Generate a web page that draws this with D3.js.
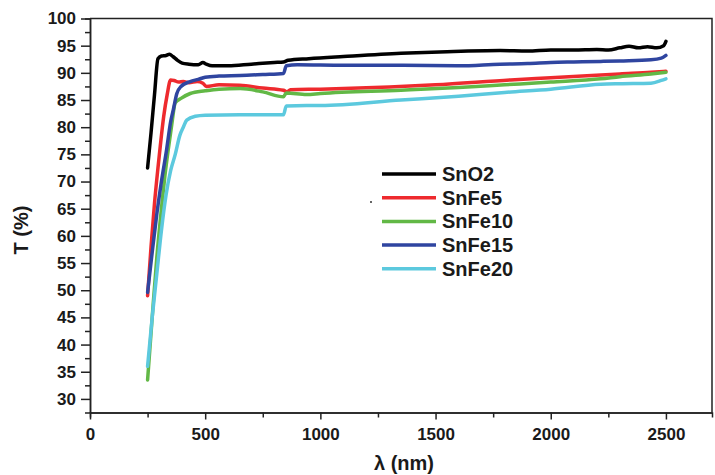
<!DOCTYPE html>
<html lang="en">
<head>
    <meta charset="UTF-8">
    <title>Transmittance spectra</title>
    <script src="https://d3js.org/d3.v7.min.js"></script>
    <style>
        body { margin: 0; background: white; }
        svg { display: block; font-family: "Liberation Sans", Arial, sans-serif; }
        .tick text { font-weight: bold; fill: #1a1a1a; }
    </style>
</head>
<body>
<div id="chart"></div>
<script>
// Series names and colours
const seriesNames = ["SnO2", "SnFe5", "SnFe10", "SnFe15", "SnFe20"];
const seriesColors = ["#000000", "#ee2a2e", "#62b846", "#2f45a0", "#5cc9de"];

// [wavelength nm, T %]
const sno2 = [[250,72.5],[265,79],[280,86],[295,92.6],[310,93.1],[330,93.2],[345,93.4],[360,93.0],[380,92.3],[400,91.8],[430,91.6],[470,91.5],[490,91.9],[505,91.6],[530,91.3],[600,91.3],[700,91.6],[800,91.9],[840,92.0],[860,92.3],[950,92.6],[1100,93.0],[1350,93.6],[1550,93.9],[1780,94.1],[1900,94.0],[2000,94.2],[2100,94.2],[2200,94.3],[2250,94.2],[2300,94.6],[2340,94.9],[2380,94.6],[2420,94.8],[2460,94.6],[2490,95.0],[2500,95.8]];
const snfe5 = [[250,49],[265,58],[280,66],[295,72.5],[305,76.5],[320,82],[335,86],[350,88.7],[365,88.6],[385,88.3],[405,88.4],[430,88.2],[465,88.4],[490,88.1],[505,87.5],[560,87.8],[650,87.7],[750,87.2],[840,86.8],[855,86.5],[870,86.9],[1000,87.0],[1300,87.4],[1500,87.8],[1826,88.7],[2000,89.1],[2217,89.6],[2300,89.8],[2435,90.1],[2500,90.3]];
const snfe10 = [[250,33.5],[270,45],[290,56],[310,65],[325,71],[340,76],[355,80.5],[370,84.5],[395,85.3],[435,86.2],[500,86.7],[560,87.0],[652,87.1],[750,86.5],[840,85.6],[852,86.3],[940,86.0],[1000,86.2],[1350,86.8],[1600,87.3],[1800,87.8],[2000,88.3],[2217,88.9],[2300,89.3],[2435,89.8],[2500,90.1]];
const snfe15 = [[250,49.6],[270,57],[290,64],[310,70],[333,76],[350,81],[362,83.3],[377,86.2],[395,87.5],[435,88.4],[470,88.8],[500,89.2],[560,89.4],[652,89.5],[750,89.7],[840,89.9],[852,91.3],[900,91.5],[1100,91.4],[1350,91.4],[1600,91.3],[1780,91.6],[1900,91.7],[2000,91.9],[2100,92.0],[2217,92.1],[2300,92.2],[2435,92.4],[2480,92.7],[2500,93.2]];
const snfe20 = [[250,36],[270,45],[290,53],[310,61],[330,67.5],[350,72],[370,75],[390,78.5],[405,80],[420,81.3],[457,82],[500,82.2],[650,82.3],[840,82.3],[852,83.9],[940,84.0],[1000,84.0],[1350,85.0],[1600,85.7],[1800,86.4],[2000,87.0],[2217,87.9],[2300,88.0],[2435,88.1],[2480,88.6],[2500,88.9]];
const seriesData = [sno2, snfe5, snfe10, snfe15, snfe20];

// Tick values
const xTicks = [0, 500, 1000, 1500, 2000, 2500];
const xMinor = [250, 750, 1250, 1750, 2250];
const yTicks = [30, 35, 40, 45, 50, 55, 60, 65, 70, 75, 80, 85, 90, 95, 100];
const yMinor = [32.5, 37.5, 42.5, 47.5, 52.5, 57.5, 62.5, 67.5, 72.5, 77.5, 82.5, 87.5, 92.5, 97.5];

const W = 715, H = 475;
const margin = { top: 18.5, right: 3, bottom: 62.5, left: 90 };

const svg = d3.select("#chart").append("svg")
    .attr("width", W).attr("height", H);

const x = d3.scaleLinear().domain([0, 2700]).range([margin.left, W - margin.right]);
const y = d3.scaleLinear().domain([27.5, 100]).range([H - margin.bottom, margin.top]);

// frame (top + right)
svg.append("path")
    .attr("d", `M${x(0)},${y(100)}H${x(2700)}V${y(27.5)}`)
    .attr("fill", "none").attr("stroke", "#222").attr("stroke-width", 1.5);

// x axis
const gx = svg.append("g").attr("transform", `translate(0,${y(27.5)})`);
gx.call(d3.axisBottom(x).tickValues(xTicks).tickFormat(d3.format("d"))
    .tickSize(7).tickPadding(8).tickSizeOuter(0));
gx.append("g").call(d3.axisBottom(x).tickValues(xMinor).tickSize(5).tickFormat(""));
gx.selectAll(".tick text").attr("font-size", 17);

// y axis
const gy = svg.append("g").attr("transform", `translate(${x(0)},0)`);
gy.call(d3.axisLeft(y).tickValues(yTicks).tickSize(9).tickPadding(5).tickSizeOuter(0));
gy.append("g").call(d3.axisLeft(y).tickValues(yMinor).tickSize(5).tickFormat(""));
gy.selectAll(".tick text").attr("font-size", 17);
svg.selectAll(".domain, .tick line").attr("stroke", "#222").attr("stroke-width", 1.5);

// lines
const line = d3.line().x(d => x(d[0])).y(d => y(d[1])).curve(d3.curveMonotoneX);
svg.selectAll(".series")
    .data(seriesData)
    .join("path")
    .attr("class", "series")
    .attr("d", line)
    .attr("fill", "none")
    .attr("stroke", (d, i) => seriesColors[i])
    .attr("stroke-width", 3.5)
    .attr("stroke-linejoin", "round")
    .attr("stroke-linecap", "round");

// legend
const legend = svg.append("g").attr("transform", "translate(382,174)");
seriesNames.forEach((name, i) => {
    const row = legend.append("g").attr("transform", `translate(0,${i * 23.7})`);
    row.append("line").attr("x1", 0).attr("x2", 54)
        .attr("stroke", seriesColors[i]).attr("stroke-width", 3.5);
    row.append("text").attr("x", 60).attr("dy", "0.35em")
        .attr("font-size", 20).attr("font-weight", "bold").attr("fill", "#1a1a1a")
        .text(name);
});
svg.append("circle").attr("cx", 371).attr("cy", 202).attr("r", 1).attr("fill", "#333");

// axis titles
svg.append("text").attr("x", 404).attr("y", 463).attr("dy", "0.35em")
    .attr("text-anchor", "middle").attr("font-size", 20).attr("font-weight", "bold")
    .attr("fill", "#1a1a1a").text("λ (nm)");
svg.append("text").attr("transform", "translate(21,230) rotate(-90)").attr("dy", "0.35em")
    .attr("text-anchor", "middle").attr("font-size", 20).attr("font-weight", "bold")
    .attr("fill", "#1a1a1a").text("T (%)");
</script>
</body>
</html>
